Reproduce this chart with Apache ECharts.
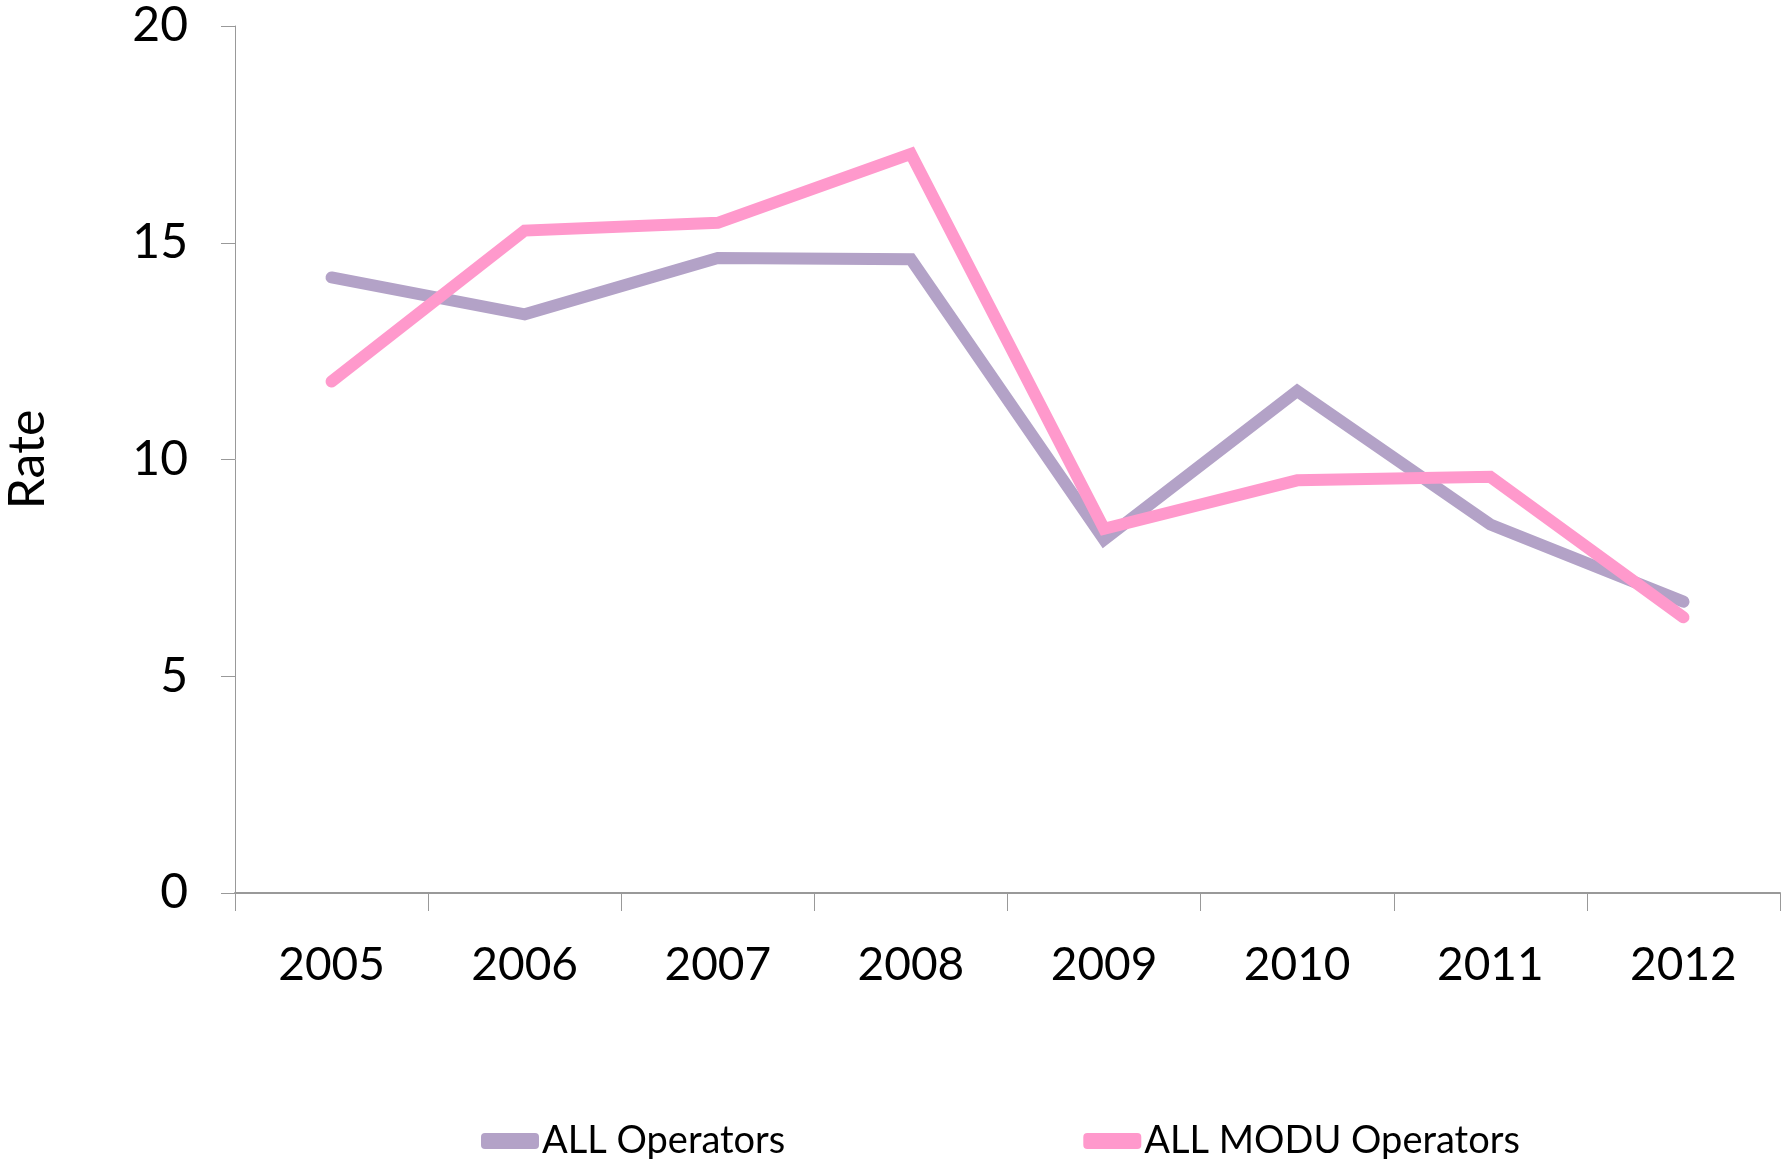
<!DOCTYPE html>
<html>
<head>
<meta charset="utf-8">
<script src="https://cdn.jsdelivr.net/npm/echarts@6/dist/echarts.min.js"></script>
<style>
html,body{margin:0;padding:0;background:#fff;}
#chart{width:1791px;height:1159px;}
</style>
</head>
<body>
<div id="chart"></div>
<script>
var years = ['2005','2006','2007','2008','2009','2010','2011','2012'];
var allOperators = [14.2, 13.35, 14.65, 14.62, 8.15, 11.58, 8.5, 6.72];
var allModuOperators = [11.8, 15.28, 15.46, 17.05, 8.4, 9.52, 9.6, 6.36];
var seriesNames = ['ALL Operators', 'ALL MODU Operators'];
var yTicks = {min: 0, max: 20, interval: 5};

var chart = echarts.init(document.getElementById('chart'));
var font = 'Lato';
chart.setOption({
  animation: false,
  backgroundColor: '#ffffff',
  grid: {left: 235, right: 11, top: 26, bottom: 266, containLabel: false, outerBoundsMode: 'none'},
  legend: {
    left: 476, top: 1117,
    itemWidth: 58, itemHeight: 16, itemGap: 298,
    icon: 'roundRect',
    textStyle: {fontFamily: font, fontSize: 38, color: '#000', padding: [0,0,0,-2]},
    data: seriesNames
  },
  xAxis: {
    type: 'category',
    data: years,
    axisLine: {lineStyle: {color: '#999', width: 2}},
    axisTick: {show: true, length: 18, lineStyle: {color: '#999'}},
    axisLabel: {fontFamily: font, fontSize: 46, color: '#000', margin: 49}
  },
  yAxis: {
    type: 'value',
    min: yTicks.min, max: yTicks.max, interval: yTicks.interval,
    name: 'Rate',
    nameLocation: 'middle',
    nameGap: 182,
    nameTextStyle: {fontFamily: font, fontSize: 50, color: '#000'},
    axisLine: {show: true, lineStyle: {color: '#999'}},
    axisTick: {show: true, length: 14, lineStyle: {color: '#999'}},
    splitLine: {show: false},
    axisLabel: {fontFamily: font, fontSize: 48, color: '#000', margin: 47}
  },
  series: [
    {
      name: seriesNames[0], type: 'line', data: allOperators,
      symbol: 'none', lineStyle: {color: '#B3A2C7', width: 12, cap: 'round', join: 'miter'},
      itemStyle: {color: '#B3A2C7'}
    },
    {
      name: seriesNames[1], type: 'line', data: allModuOperators,
      symbol: 'none', lineStyle: {color: '#FF99CC', width: 12, cap: 'round', join: 'miter'},
      itemStyle: {color: '#FF99CC'}
    }
  ]
});
</script>
</body>
</html>
